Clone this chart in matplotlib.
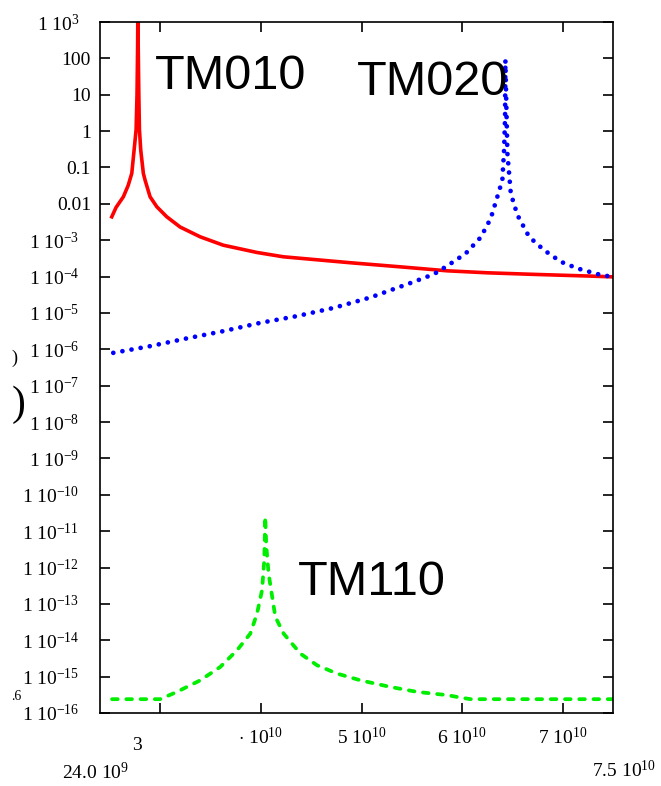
"""Resonance response of a pillbox cavity: TM010, TM020 and TM110 modes."""
import numpy as np
import matplotlib
matplotlib.use('Agg')
import matplotlib.pyplot as plt

# -- DATA (frequency in GHz, response magnitude)
f_tm010 = [25.17, 25.6, 26.32, 26.8, 27.16, 27.49, 27.59, 27.68, 27.74, 27.77,
           27.80, 27.86, 27.92, 28.05, 28.31, 28.48, 28.98, 29.65, 30.64, 31.97,
           33.96, 36.25, 39.61, 42.23, 48.9, 53.88, 58.53, 62.52, 67.13, 72.8, 75.1]
v_tm010 = [4.4e-3, 8e-3, 1.56e-2, 3.2e-2, 6.9e-2, 0.57, 1.1, 10, 200, 3000,
           200, 10, 1.1, 0.3, 6.9e-2, 4.5e-2, 1.56e-2, 8.3e-3, 4.4e-3, 2.3e-3,
           1.24e-3, 7.3e-4, 4.6e-4, 3.5e-4, 2.4e-4, 1.85e-4, 1.44e-4, 1.27e-4,
           1.15e-4, 1.03e-4, 9.8e-5]

f_tm020 = [25.32, 28.98, 32.64, 36.28, 39.94, 43.59, 47.24, 50.89, 55.21, 57.2,
           58.53, 60.35, 61.85, 62.85, 63.5, 64.0, 64.17, 64.27, 64.3, 64.5,
           64.84, 65.5, 66.66, 68.16, 69.82, 71.48, 73.47, 75.13]
v_tm020 = [8.0e-7, 1.22e-6, 2.0e-6, 3.17e-6, 5.35e-6, 8.2e-6, 1.38e-5, 2.67e-5,
           7.2e-5, 1.17e-4, 1.98e-4, 4.3e-4, 1.2e-3, 4e-3, 1.56e-2, 4.5e-2, 0.3,
           2.4, 90, 0.25, 1.9e-2, 4.9e-3, 1.24e-3, 5.3e-4, 2.55e-4, 1.67e-4,
           1.17e-4, 9.5e-5]

f_tm110 = [25.2, 29.98, 31.64, 33.96, 35.95, 37.62, 38.94, 39.61, 40.11, 40.33,
           40.43, 40.53, 40.76, 41.43, 42.26, 43.92, 45.58, 47.58, 49.9, 52.88,
           55.54, 58.53, 59.86, 60.85, 75.1]
v_tm110 = [2.4e-16, 2.4e-16, 3.8e-16, 7.9e-16, 1.84e-15, 5.3e-15, 1.52e-14,
           5.4e-14, 2.37e-13, 1.6e-12, 2.5e-11, 4e-12, 6.8e-13, 4.4e-14, 1.52e-14,
           4.3e-15, 2.05e-15, 1.21e-15, 7.9e-16, 5.2e-16, 3.8e-16, 3.1e-16,
           2.65e-16, 2.4e-16, 2.4e-16]

y_exp = list(range(-16, 4))
y_labels = []
for k in y_exp:
    if k in (-2, -1, 0, 1, 2):
        y_labels.append(['0.01', '0.1', '1', '10', '100'][k + 2])
    else:
        y_labels.append(r'1 $\mathregular{10^{%d}}$' % k)

x_ticks = [3e10, 4e10, 5e10, 6e10, 7e10]
x_labels = ['', r'$\cdot$ $\mathregular{10^{10}}$', r'5 $\mathregular{10^{10}}$',
            r'6 $\mathregular{10^{10}}$', r'7 $\mathregular{10^{10}}$']


def main():
    plt.rcParams['font.family'] = 'Liberation Serif'
    plt.rcParams['mathtext.fontset'] = 'custom'
    plt.rcParams['mathtext.rm'] = 'Liberation Serif'

    fig = plt.figure(figsize=(6.61, 7.86), dpi=100)
    ax = fig.add_axes([100/661, 73/786, 513/661, 691/786])

    ax.plot(np.array(f_tm010)*1e9, v_tm010, color='red', lw=2.6)
    ax.plot(np.array(f_tm020)*1e9, v_tm020, color='blue', lw=3.4,
            linestyle=(0, (0.01, 1.95)), dash_capstyle='round')
    ax.plot(np.array(f_tm110)*1e9, v_tm110, color='#00ee00', lw=2.7,
            linestyle=(0, (1.5, 2.3)), dash_capstyle='round')

    ax.set_yscale('log')
    ax.set_xlim(2.4e10, 7.5e10)
    ax.set_ylim(1e-16, 1e3)
    ax.set_yticks([10.0**k for k in y_exp])
    ax.set_yticklabels(y_labels, fontsize=14)
    ax.yaxis.set_minor_locator(matplotlib.ticker.NullLocator())
    ax.set_xticks(x_ticks)
    ax.set_xticklabels(x_labels, fontsize=14)

    ax.tick_params(direction='in', length=7, width=1.2, top=True, right=True)
    ax.tick_params(axis='x', pad=10)
    for tick, k in zip(ax.yaxis.get_major_ticks(), y_exp):
        tick.set_pad(6.5 if -2 <= k <= 2 else 15)
    for s in ax.spines.values():
        s.set_linewidth(1.2)

    # -- MODE LABELS
    for name, fx, vy in [('TM010', 29.48e9, 10**1.49),
                         ('TM020', 49.5e9, 10**1.35),
                         ('TM110', 43.7e9, 10**-12.41)]:
        ax.text(fx, vy, name, fontsize=35, family='Liberation Sans', va='center')

    # -- RANGE LABELS AND CLIPPED FRAGMENTS
    xt = ax.get_xaxis_transform()
    ax.text(27.7e9, -0.047, '3', fontsize=14, ha='center', va='center', transform=xt)
    fig.text(95/661, 1 - 773/786, r'24.0 $\mathregular{10^{9}}$', fontsize=14,
             ha='center', va='center')
    fig.text(624/661, 1 - 770/786, r'7.5 $\mathregular{10^{10}}$', fontsize=14,
             ha='center', va='center')
    fig.text(14/661, 1 - 358/786, ')', fontsize=13, ha='center', va='center')
    fig.text(19/661, 1 - 405/786, ')', fontsize=30, ha='center', va='center')
    fig.text(16/661, 1 - 696/786, '.6', fontsize=10, ha='center', va='center')

    fig.savefig('out.png', dpi=100)


main()
